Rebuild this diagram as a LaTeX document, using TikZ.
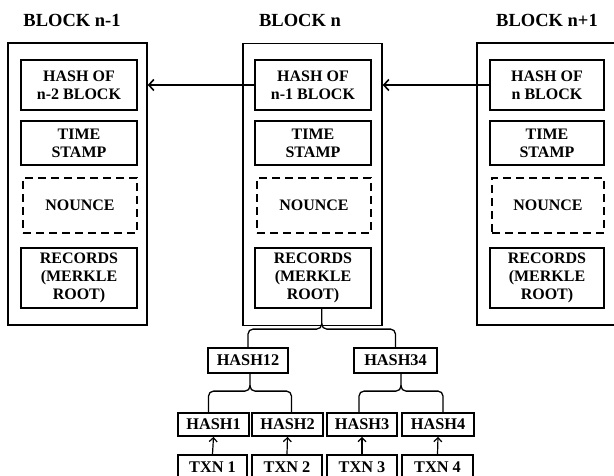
\documentclass[tikz,border=0pt]{standalone}
\usepackage{fontspec}
\setmainfont{Liberation Serif}
\usetikzlibrary{arrows.meta,calc}
\begin{document}
\begin{tikzpicture}[x=1pt,y=-1pt,
  blockframe/.style={draw,line width=1.5pt,minimum width=139pt,minimum height=282pt,inner sep=0pt},
  blocktitle/.style={font=\fontsize{18.5}{20}\selectfont\bfseries,inner sep=0pt},
  field/.style={draw,line width=1.8pt,minimum width=116pt,inner sep=0pt,align=center,
    font=\fontsize{16}{18}\selectfont\bfseries},
  dashfield/.style={field,dash pattern=on 8pt off 5pt},
  treebox/.style={draw,line width=1.8pt,minimum height=24pt,inner sep=0pt,
    font=\fontsize{16.3}{18}\selectfont\bfseries},
  chain/.style={line width=1.6pt,-{Straight Barb[length=5pt,width=11pt,line width=1.6pt]}},
  leafarrow/.style={line width=1.2pt,-{Straight Barb[length=4pt,width=8pt,line width=1.2pt]}},
  treeline/.style={line width=1.3pt,rounded corners=5pt}]
\useasboundingbox (0,0) rectangle (614,476);
\clip (0,0) rectangle (614,476);

% block titles
\node[blocktitle] (title-a) at (72,20) {BLOCK n-1};
\node[blocktitle] (title-b) at (300,20) {BLOCK n};
\node[blocktitle] (title-c) at (547,20) {BLOCK n+1};

% block frames
\node[blockframe] (blk-a) at (77.5,184) {};
\node[blockframe] (blk-b) at (312.5,184.5) {};
\node[blockframe,minimum width=140pt] (blk-c) at (547,184) {};

% block n-1 fields
\node[field,minimum height=50pt] (hash-a) at (79,85) {HASH OF\\n-2 BLOCK};
\node[field,minimum height=44pt] (time-a) at (79,143) {TIME\\STAMP};
\node[dashfield,minimum height=55pt,minimum width=114pt] (nonce-a) at (80,205.5) {NOUNCE};
\node[field,minimum height=60pt] (rec-a) at (79,278) {RECORDS\\(MERKLE\\ROOT)};

% block n fields
\node[field,minimum height=50pt] (hash-b) at (313,85) {HASH OF\\n-1 BLOCK};
\node[field,minimum height=44pt] (time-b) at (313,143) {TIME\\STAMP};
\node[dashfield,minimum height=55pt,minimum width=114pt] (nonce-b) at (314,205.5) {NOUNCE};
\node[field,minimum height=60pt] (rec-b) at (313,278) {RECORDS\\(MERKLE\\ROOT)};

% block n+1 fields
\node[field,minimum height=50pt,minimum width=114pt] (hash-c) at (547,85) {HASH OF\\n BLOCK};
\node[field,minimum height=44pt,minimum width=114pt] (time-c) at (547,143) {TIME\\STAMP};
\node[dashfield,minimum height=55pt,minimum width=112pt] (nonce-c) at (548,205.5) {NOUNCE};
\node[field,minimum height=60pt,minimum width=114pt] (rec-c) at (547,278) {RECORDS\\(MERKLE\\ROOT)};

% chain links: each block points back to its predecessor
\draw[chain] (hash-b.west) -- (hash-b.west -| blk-a.east);
\draw[chain] (hash-c.west) -- (hash-c.west -| blk-b.east);

% Merkle tree under block n
\node[treebox,minimum width=80pt,minimum height=25pt] (h12) at (248,360.5) {HASH12};
\node[treebox,minimum width=83pt,minimum height=25pt] (h34) at (395.5,360.5) {HASH34};
\node[treebox,minimum width=71pt,minimum height=23pt] (h1) at (213.5,424.5) {HASH1};
\node[treebox,minimum width=71pt,minimum height=23pt] (h2) at (287.5,424.5) {HASH2};
\node[treebox,minimum width=70pt,minimum height=23pt] (h3) at (362,424.5) {HASH3};
\node[treebox,minimum width=72pt,minimum height=23pt] (h4) at (438,424.5) {HASH4};
\node[treebox,minimum width=69pt] (t1) at (212.5,467) {TXN 1};
\node[treebox,minimum width=70pt] (t2) at (287,467) {TXN 2};
\node[treebox,minimum width=70pt] (t3) at (362,467) {TXN 3};
\node[treebox,minimum width=71pt] (t4) at (437.5,467) {TXN 4};

% brace from the Merkle root to HASH12 / HASH34
\coordinate (m0) at ($(h12.north)!0.5!(h34.north)+(0,-18)$);
\draw[treeline] (h12.north) |- (m0) -- (m0 |- rec-b.south);
\draw[treeline] (h34.north) |- (m0) -- ++(0,-6);

% brace from HASH12 to HASH1 / HASH2
\coordinate (l1) at ($(h1.north)+(-5,0)$);
\coordinate (r1) at ($(h2.north)+(4,0)$);
\coordinate (m1) at ($(l1)!0.5!(r1)+(0,-21)$);
\draw[treeline] (l1) |- (m1) -- (m1 |- h12.south);
\draw[treeline] (r1) |- (m1) -- ++(0,-6);

% brace from HASH34 to HASH3 / HASH4
\coordinate (l2) at ($(h3.north)+(-3,0)$);
\coordinate (r2) at ($(h4.north)+(5,0)$);
\coordinate (m2) at ($(l2)!0.5!(r2)+(0,-21)$);
\draw[treeline] (l2) |- (m2) -- (m2 |- h34.south);
\draw[treeline] (r2) |- (m2) -- ++(0,-6);

% transactions hashed into the leaves
\draw[leafarrow] (t1.north) -- (h1.south);
\draw[leafarrow] (t2.north) -- (h2.south);
\draw[leafarrow] (t3.north) -- (h3.south);
\draw[leafarrow] (t4.north) -- (h4.south);
\end{tikzpicture}
\end{document}
